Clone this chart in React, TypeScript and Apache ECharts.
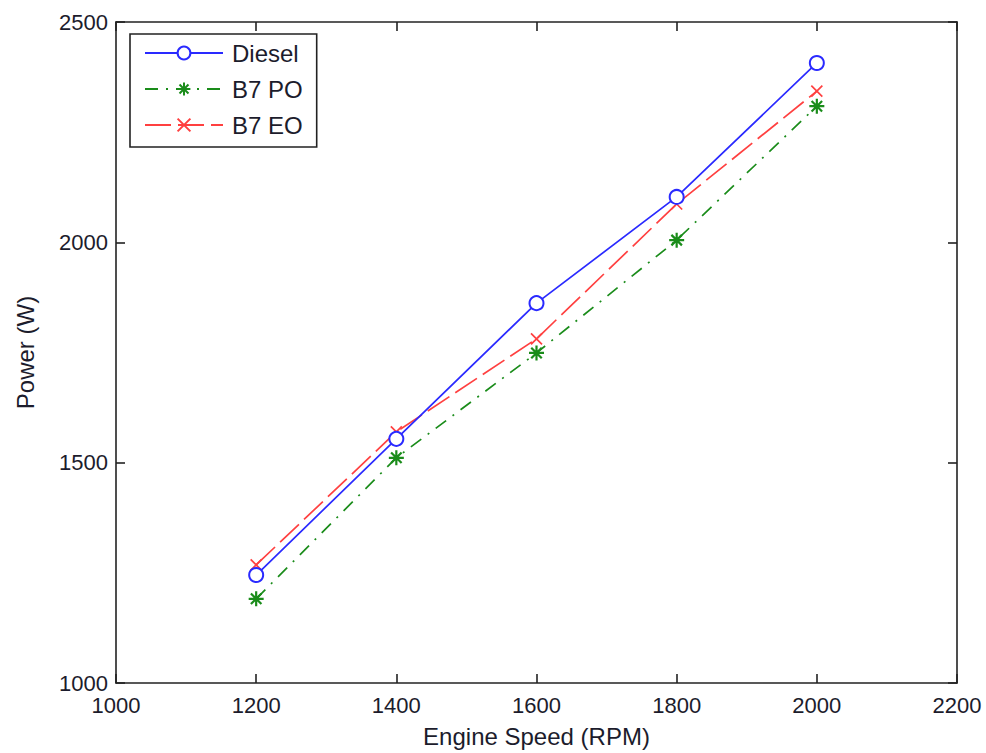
import React, { useEffect, useRef } from "react";
import * as echarts from "echarts";

const speeds = [1200, 1400, 1600, 1800, 2000];
const diesel = [1245, 1554, 1862, 2103, 2407];
const b7po = [1191, 1511, 1749, 2005, 2309];
const b7eo = [1268, 1570, 1781, 2087, 2343];

const seriesNames = ["Diesel", "B7 PO", "B7 EO"];
const xTitle = "Engine Speed (RPM)";
const yTitle = "Power (W)";

const starPath = "path://M5,0L5,10M0,5L10,5M1.5,1.5L8.5,8.5M8.5,1.5L1.5,8.5";
const crossPath = "path://M0,0L10,10M10,0L0,10";

export default function App() {
  const ref = useRef<HTMLDivElement>(null);
  useEffect(() => {
    if (!ref.current) return;
    const chart = echarts.init(ref.current, undefined, { renderer: "svg" });
    const font = "'Liberation Sans', Arial, sans-serif";
    const txt = "#1c1c2c";
    const plain = (v: number) => String(v);
    const axisCommon = {
      type: "value" as const,
      axisLine: { show: true, onZero: false, lineStyle: { color: "#222", width: 1.6 } },
      axisTick: { show: true, inside: true, length: 9, lineStyle: { color: "#222", width: 1.6 } },
      splitLine: { show: false },
    };
    const pair = (arr: number[]) => speeds.map((s, i) => [s, arr[i]]);
    chart.setOption({
      animation: false,
      backgroundColor: "#fff",
      textStyle: { fontFamily: font },
      grid: { left: 116, top: 22, right: 29, bottom: 70, containLabel: false },
      legend: {
        orient: "vertical",
        left: 130,
        top: 34,
        padding: [7, 14, 10, 14],
        itemGap: 12,
        itemWidth: 78,
        itemHeight: 16,
        backgroundColor: "#fff",
        borderColor: "#222",
        borderWidth: 1.6,
        textStyle: { fontSize: 24, color: txt, fontFamily: font, padding: [0, 0, 0, 4] },
        data: seriesNames,
      },
      xAxis: [
        {
          ...axisCommon,
          min: 1000,
          max: 2200,
          interval: 200,
          position: "bottom",
          name: xTitle,
          nameLocation: "middle",
          nameGap: 41,
          nameTextStyle: { fontSize: 24, color: txt, fontFamily: font },
          axisLabel: { fontSize: 22, color: txt, margin: 11, fontFamily: font, formatter: plain },
        },
        {
          ...axisCommon,
          min: 1000,
          max: 2200,
          interval: 200,
          position: "top",
          axisLabel: { show: false },
        },
      ],
      yAxis: [
        {
          ...axisCommon,
          min: 1000,
          max: 2500,
          interval: 500,
          position: "left",
          name: yTitle,
          nameLocation: "middle",
          nameGap: 79,
          nameTextStyle: { fontSize: 24, color: txt, fontFamily: font },
          axisLabel: { fontSize: 22, color: txt, margin: 8, fontFamily: font, formatter: plain },
        },
        {
          ...axisCommon,
          min: 1000,
          max: 2500,
          interval: 500,
          position: "right",
          axisLabel: { show: false },
        },
      ],
      series: [
        {
          name: seriesNames[0],
          type: "line",
          data: pair(diesel),
          symbol: "circle",
          symbolSize: 14,
          showAllSymbol: true,
          lineStyle: { color: "#2a2aff", width: 1.7, type: "solid" },
          itemStyle: { color: "#fff", borderColor: "#2a2aff", borderWidth: 2 },
          z: 3,
        },
        {
          name: seriesNames[1],
          type: "line",
          data: pair(b7po),
          symbol: starPath,
          symbolSize: 15,
          lineStyle: { color: "#1a8c1a", width: 1.7, type: [13, 8, 2, 8] },
          itemStyle: { color: "#1a8c1a", borderColor: "#1a8c1a", borderWidth: 2.2 },
          z: 2,
        },
        {
          name: seriesNames[2],
          type: "line",
          data: pair(b7eo),
          symbol: crossPath,
          symbolSize: 11,
          lineStyle: { color: "#ff4040", width: 1.7, type: [26, 7] },
          itemStyle: { color: "#ff4040", borderColor: "#ff4040", borderWidth: 1.7 },
          z: 2,
        },
      ],
    });
    return () => chart.dispose();
  }, []);
  return (
    <div
      ref={ref}
      style={{ position: "fixed", left: 0, top: 0, width: 986, height: 753 }}
    />
  );
}
